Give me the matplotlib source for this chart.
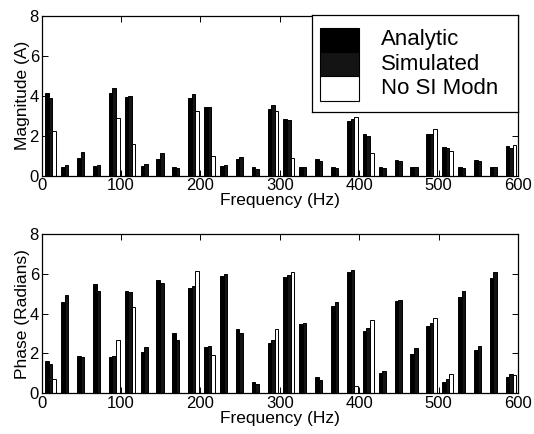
import matplotlib
matplotlib.use("Agg")
import matplotlib.pyplot as plt
from matplotlib.patches import Rectangle
import numpy as np

plt.rcParams['font.family'] = ['Liberation Sans', 'DejaVu Sans']

freqs = [10, 30, 50, 70, 90, 110, 130, 150, 170, 190, 210, 230, 250, 270, 290,
         310, 330, 350, 370, 390, 410, 430, 450, 470, 490, 510, 530, 550, 570, 590]

mag_analytic = [4.12, 0.45, 0.87, 0.48, 4.15, 3.93, 0.47, 0.83, 0.42, 3.87,
                3.43, 0.48, 0.83, 0.42, 3.33, 2.82, 0.43, 0.82, 0.42, 2.75,
                2.08, 0.42, 0.80, 0.43, 2.08, 1.45, 0.45, 0.80, 0.43, 1.50]
mag_simulated = [3.90, 0.55, 1.20, 0.52, 4.40, 4.00, 0.57, 1.12, 0.40, 4.08,
                 3.45, 0.52, 0.93, 0.33, 3.53, 2.77, 0.43, 0.75, 0.37, 2.83,
                 2.00, 0.40, 0.72, 0.43, 2.07, 1.37, 0.37, 0.73, 0.43, 1.40]
mag_nosi = [2.25, 0, 0, 0, 2.87, 1.57, 0, 0, 0, 3.22,
            1.00, 0, 0, 0, 3.23, 0.88, 0, 0, 0, 2.92,
            1.12, 0, 0, 0, 2.32, 1.23, 0, 0, 0, 1.53]

ph_analytic = [1.63, 4.57, 1.88, 5.48, 1.83, 5.14, 2.07, 5.70, 3.00, 5.31,
               2.34, 5.88, 3.24, 0.55, 2.50, 5.83, 3.46, 0.81, 4.40, 6.10,
               3.14, 1.03, 4.66, 1.97, 3.38, 0.54, 4.86, 2.17, 5.78, 0.81]
ph_simulated = [1.46, 4.96, 1.83, 5.13, 1.88, 5.11, 2.34, 5.53, 2.69, 5.41,
                2.35, 5.98, 3.03, 0.45, 2.66, 5.93, 3.51, 0.64, 4.60, 6.20,
                3.26, 1.13, 4.69, 2.27, 3.51, 0.69, 5.16, 2.37, 6.10, 0.96]
ph_nosi = [0.72, 0, 0, 0, 2.69, 4.32, 0, 0, 0, 6.13,
           1.90, 0, 0, 0, 3.24, 6.08, 0, 0, 0, 0.34,
           3.68, 0, 0, 0, 3.76, 0.96, 0, 0, 0, 0.89]

series_labels = ['Analytic', 'Simulated', 'No SI Modn']
series_colors = ['#000000', '#141414', '#ffffff']

W, H = 534, 434
fig = plt.figure(figsize=(W / 100, H / 100), dpi=100)

def px_axes(x0, y0, x1, y1):
    return fig.add_axes([x0 / W, 1 - y1 / H, (x1 - x0) / W, (y1 - y0) / H])

ax1 = px_axes(41.7, 15.7, 518, 175.7)
ax2 = px_axes(41.7, 234.3, 518, 393)

f = np.array(freqs, dtype=float)
bw = 4.5
offsets = [-3.2, 1.3, 5.8]

def draw(ax, data, ylabel):
    for vals, off, col in zip(data, offsets, series_colors):
        ax.bar(f + off, vals, width=bw, color=col, edgecolor='black',
               linewidth=0.7, zorder=2)
    ax.set_xlim(0, 600)
    ax.set_ylim(0, 8)
    ax.set_xticks([0, 100, 200, 300, 400, 500, 600])
    ax.set_yticks([0, 2, 4, 6, 8])
    ax.tick_params(direction='in', length=4, width=0.7, top=True, right=True,
                   labelsize=12, pad=2)
    for s in ax.spines.values():
        s.set_linewidth(0.9)
    ax.set_xlabel('Frequency (Hz)', fontsize=12.5, labelpad=0)
    ax.set_ylabel(ylabel, fontsize=12.5, labelpad=0)

draw(ax1, [mag_analytic, mag_simulated, mag_nosi], 'Magnitude (A)')
draw(ax2, [ph_analytic, ph_simulated, ph_nosi], 'Phase (Radians)')

# legend box (MATLAB style, stacked patches)
lx0, ly0, lx1, ly1 = 311.7, 15.0, 518.0, 112.0
lax = px_axes(lx0, ly0, lx1, ly1)
lax.set_xlim(0, 1)
lax.set_ylim(0, 1)
lax.set_xticks([])
lax.set_yticks([])
for s in lax.spines.values():
    s.set_linewidth(0.9)
ph = 0.2508
top = 0.869
for i, (lab, col) in enumerate(zip(series_labels, series_colors)):
    yb = top - (i + 1) * ph
    lax.add_patch(Rectangle((0.04, yb), 0.19, ph, facecolor=col,
                            edgecolor='black', linewidth=0.8))
    lax.text(0.335, yb + ph / 2, lab, fontsize=16, va='center', ha='left')

fig.savefig('out.png', dpi=100)
